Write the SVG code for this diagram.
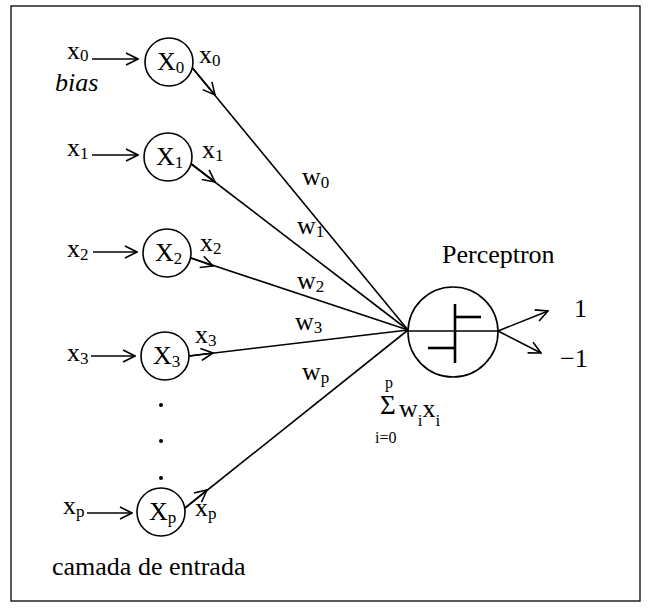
<svg xmlns="http://www.w3.org/2000/svg" width="648" height="608" viewBox="0 0 648 608">
<defs>
<marker id="oa" viewBox="0 0 14 14" refX="13" refY="7" markerWidth="14" markerHeight="14" markerUnits="userSpaceOnUse" orient="auto">
<path d="M1,1 L13,7 L1,13" fill="none" stroke="#000" stroke-width="1.6"/>
</marker>
</defs>
<style>
text{font-family:"Liberation Serif","Times New Roman",serif;fill:#000}
.t{font-size:26px}
.s{font-size:17px}
.n{fill:#fff;stroke:#000;stroke-width:1.6}
.l{stroke:#000;stroke-width:1.6;fill:none}
.a{stroke:#000;stroke-width:1.6;fill:none;marker-end:url(#oa)}
</style>
<rect x="11" y="6" width="629" height="595" fill="#fff" stroke="#000" stroke-width="1.3"/>
<g id="connectors">
<line class="a" x1="92" y1="59" x2="138" y2="59"/>
<line class="a" x1="92" y1="155" x2="138" y2="155"/>
<line class="a" x1="93" y1="252" x2="137" y2="252"/>
<line class="a" x1="91" y1="356" x2="135" y2="356"/>
<line class="a" x1="87" y1="513" x2="132" y2="513"/>
<line class="l" x1="190" y1="65" x2="408" y2="330"/>
<line class="a" x1="190" y1="65" x2="215" y2="95"/>
<line class="l" x1="190" y1="163" x2="408" y2="330"/>
<line class="a" x1="190" y1="163" x2="215" y2="182"/>
<line class="l" x1="191" y1="258" x2="408" y2="330"/>
<line class="a" x1="191" y1="258" x2="213" y2="266"/>
<line class="l" x1="189" y1="356" x2="408" y2="330"/>
<line class="a" x1="189" y1="356" x2="213" y2="353"/>
<line class="l" x1="185" y1="508" x2="408" y2="330"/>
<line class="a" x1="185" y1="508" x2="207" y2="490"/>
<line class="l" x1="408" y1="331" x2="498" y2="331"/>
<line class="a" x1="498" y1="331" x2="548" y2="311"/>
<line class="a" x1="498" y1="331" x2="541" y2="353"/>
</g>
<g id="bias-label"><text x="55" y="91" class="t" font-style="italic">bias</text></g>
<g id="in0"><text x="67" y="59" class="t">x<tspan class="s" dy="2">0</tspan></text></g>
<g id="in1"><text x="67" y="156" class="t">x<tspan class="s" dy="3">1</tspan></text></g>
<g id="in2"><text x="67" y="257" class="t">x<tspan class="s" dy="3">2</tspan></text></g>
<g id="in3"><text x="67" y="361" class="t">x<tspan class="s" dy="3">3</tspan></text></g>
<g id="inp"><text x="63" y="514" class="t">x<tspan class="s" dy="3">p</tspan></text></g>
<g id="X0"><circle class="n" cx="169" cy="62" r="24"/><text x="157" y="70" class="t">X<tspan class="s" dy="3">0</tspan></text></g>
<g id="X1"><circle class="n" cx="168" cy="157" r="24"/><text x="156" y="165" class="t">X<tspan class="s" dy="3">1</tspan></text></g>
<g id="X2"><circle class="n" cx="167" cy="253" r="24"/><text x="155" y="261" class="t">X<tspan class="s" dy="3">2</tspan></text></g>
<g id="X3"><circle class="n" cx="165" cy="356" r="24"/><text x="153" y="364" class="t">X<tspan class="s" dy="3">3</tspan></text></g>
<g id="Xp"><circle class="n" cx="161" cy="512" r="24"/><text x="149" y="520" class="t">X<tspan class="s" dy="3">p</tspan></text></g>
<g id="dots">
<circle cx="161" cy="405" r="2"/><circle cx="161" cy="441" r="2"/><circle cx="161" cy="478" r="2"/>
</g>
<g id="out-labels">
<text x="199" y="63" class="t">x<tspan class="s" dy="3">0</tspan></text>
<text x="202" y="158" class="t">x<tspan class="s" dy="3">1</tspan></text>
<text x="200" y="251" class="t">x<tspan class="s" dy="3">2</tspan></text>
<text x="195" y="343" class="t">x<tspan class="s" dy="3">3</tspan></text>
<text x="195" y="516" class="t">x<tspan class="s" dy="3">p</tspan></text>
</g>
<g id="weights">
<text x="302" y="185" class="t">w<tspan class="s" dy="3">0</tspan></text>
<text x="297" y="234" class="t">w<tspan class="s" dy="3">1</tspan></text>
<text x="297" y="289" class="t">w<tspan class="s" dy="3">2</tspan></text>
<text x="295" y="330" class="t">w<tspan class="s" dy="3">3</tspan></text>
<text x="302" y="380" class="t">w<tspan class="s" dy="3">p</tspan></text>
</g>
<g id="perceptron">
<text x="442" y="263" class="t">Perceptron</text>
<circle cx="453" cy="332" r="45" fill="none" stroke="#000" stroke-width="1.6"/>
<line x1="455" y1="304" x2="455" y2="363" stroke="#000" stroke-width="2.6"/>
<line x1="455" y1="317" x2="481" y2="317" stroke="#000" stroke-width="2.6"/>
<line x1="428" y1="348" x2="455" y2="348" stroke="#000" stroke-width="2.6"/>
</g>
<g id="sum">
<text x="385" y="388" font-size="16px">p</text>
<text x="380" y="414" font-size="27px">Σ</text>
<text x="375" y="443" font-size="16px">i=0</text>
<text x="399" y="417" class="t">w<tspan class="s" dy="9">i</tspan><tspan dy="-9">x</tspan><tspan class="s" dy="9">i</tspan></text>
</g>
<g id="outputs">
<text x="574" y="317" class="t">1</text>
<text x="560" y="367" class="t">−1</text>
</g>
<g id="layer-label"><text x="52" y="575" class="t">camada de entrada</text></g>
</svg>
